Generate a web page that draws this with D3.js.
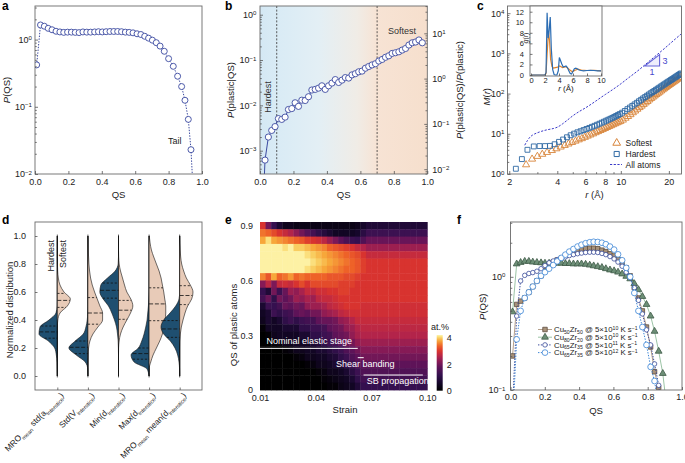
<!DOCTYPE html>
<html><head><meta charset="utf-8">
<script src="https://cdn.jsdelivr.net/npm/d3@7"></script>
<style>
body{margin:0;background:#fff;}
svg{display:block;font-family:"Liberation Sans",Arial,Helvetica,sans-serif;}
</style></head><body>
<svg id="fig" width="685" height="463"></svg>
<script>
// ---------------- DATA ----------------
// panel a: P(QS)
const qsA=[0.010,0.033,0.056,0.079,0.102,0.126,0.149,0.172,0.195,0.218,0.241,0.264,0.287,0.310,0.333,0.357,0.380,0.403,0.426,0.449,0.472,0.495,0.518,0.541,0.564,0.587,0.611,0.634,0.657,0.680,0.703,0.726,0.749,0.774,0.800,0.828,0.854,0.878,0.898,0.918,0.934,0.950];
const pA=[0.42,1.65,1.58,1.47,1.40,1.33,1.30,1.28,1.29,1.29,1.28,1.27,1.30,1.29,1.29,1.30,1.31,1.30,1.31,1.32,1.32,1.32,1.31,1.29,1.28,1.26,1.22,1.19,1.12,1.05,0.98,0.90,0.80,0.67,0.52,0.40,0.285,0.20,0.125,0.065,0.023,0.004];
const qsTicks=[0,0.2,0.4,0.6,0.8,1.0];
// panel b: P(plastic|QS)  (first point = zero, below axis)
const qsB=[0.010,0.03,0.05,0.07,0.09,0.11,0.13,0.15,0.17,0.19,0.21,0.23,0.25,0.27,0.29,0.31,0.33,0.35,0.37,0.39,0.41,0.43,0.45,0.47,0.49,0.51,0.53,0.55,0.57,0.59,0.61,0.63,0.65,0.67,0.69,0.71,0.73,0.75,0.77,0.79,0.81,0.83,0.85,0.87,0.89,0.91,0.93,0.95,0.97];
const pB=[0.00001,0.00062,0.0020,0.0028,0.0034,0.0051,0.0049,0.0055,0.0081,0.0085,0.0114,0.0095,0.0130,0.0128,0.0155,0.0218,0.0225,0.024,0.027,0.0225,0.027,0.031,0.037,0.032,0.036,0.041,0.040,0.047,0.050,0.055,0.057,0.066,0.072,0.078,0.083,0.095,0.103,0.115,0.124,0.140,0.145,0.152,0.166,0.180,0.214,0.240,0.250,0.277,0.240];
const regionLines=[0.1,0.7];
// panel c: M(r)
const rHard=[2.2,2.4,2.6,2.85,3.1,3.35,3.6,3.85,4.1,4.35,4.6,4.85,5.1,5.35,5.6,5.85,6.1,6.35,6.6,6.85,7.1,7.35,7.6,7.85,8.1,8.35,8.6,8.85,9.1,9.35,9.6,9.85,10.2,10.6,11.0,11.4,11.8,12.2,12.6,13.0,13.4,13.8,14.2,14.6,15.0,15.4,15.8,16.2,16.6,17.0,17.4,17.8,18.2,18.6,19.0,19.4,19.8,20.2,20.6,21.0,21.4,21.8,22.2,22.6,23.0,23.4,23.8];
const mHard=[1.35,2.35,4.0,4.85,4.95,4.95,5.0,5.5,6.3,7.2,8.2,9.2,10.1,10.9,11.6,12.4,13.2,14.0,14.9,15.8,16.8,17.8,18.9,20.0,21.2,22.4,23.6,24.9,26.3,27.8,29.3,31.0,33.5,37,41,45,49.5,54,59,64.5,70,76,82,88.5,95,102,109,116,124,132,140,149,158,167,177,187,197,207,218,229,240,252,264,277,290,303,317];
const rSoft=[2.55,2.78,3.0,3.22,3.45,3.7,3.95,4.2,4.45,4.7,4.95,5.2,5.45,5.7,5.95,6.2,6.45,6.7,6.95,7.2,7.45,7.7,7.95,8.2,8.45,8.7,8.95,9.2,9.45,9.7,9.95,10.3,10.7,11.1,11.5,11.9,12.3,12.7,13.1,13.5,13.9,14.3,14.7,15.1,15.5,15.9,16.3,16.7,17.1,17.5,17.9,18.3,18.7,19.1,19.5,19.9,20.3,20.7,21.1,21.5,21.9,22.3,22.7,23.1,23.5];
const mSoft=[1.7,2.35,2.75,3.1,3.45,3.85,4.25,4.7,5.15,5.6,6.1,6.6,7.1,7.6,8.2,8.8,9.4,10.0,10.7,11.4,12.1,12.8,13.6,14.4,15.2,16.0,16.9,17.8,18.7,19.6,20.5,22,24.5,27,30,33.5,37,41,45,49,54,59,64,70,76,82,88,95,102,109,117,125,133,142,151,160,169,178,188,198,208,219,230,242,254];
const rAll=[2.5,2.6,2.7,2.8,3.0,3.2,3.4,3.6,3.8,4.0,4.3,4.6,5.0,5.5,6.0,6.5,7.0,7.5,8.0,9.0,10,11,12,13,14,16,18,20,22,23.8];
const mAll=[5.2,6.8,8.3,9.3,10.6,11.6,12.4,13.0,13.6,14.6,17.5,21.5,28,36,44,54,66,80,95,130,175,235,305,390,500,780,1150,1650,2300,3000];
const rTicksC=[2,4,6,8,10,20];
// inset g(r)
const gRBlue=[0,2.0,2.15,2.3,2.45,2.6,2.75,2.9,3.1,3.3,3.5,3.7,3.9,4.05,4.2,4.4,4.6,4.8,5.0,5.2,5.4,5.6,5.8,6.0,6.2,6.4,6.6,6.8,7.0,7.5,8.0,8.5,9.0,9.5,10];
const gBlue=[0,0,0.5,11.8,7.0,8.5,11.0,5.0,1.0,0.1,0,0,0.8,3.3,2.8,2.1,1.5,1.6,1.7,1.4,0.8,0.3,0.2,0.7,1.2,1.3,1.2,1.0,0.9,0.8,0.85,0.9,0.85,0.8,0.8];
const gROrange=[0,2.0,2.15,2.3,2.5,2.65,2.8,3.0,3.2,3.5,3.8,4.1,4.5,5.0,5.5,5.9,6.3,6.7,7.2,8,9,10];
const gOrange=[0,0,0.3,4.0,8.3,6.5,3.0,1.6,1.3,1.4,1.5,1.7,1.4,1.6,1.0,0.6,0.9,1.1,0.95,0.85,0.9,0.8];
// panel d: violins (half-widths at levels 0,0.05,...,1.0)
const vLevels=[0,0.05,0.1,0.15,0.2,0.25,0.3,0.35,0.4,0.45,0.5,0.55,0.6,0.65,0.7,0.75,0.8,0.85,0.9,0.95,1.0];
const hardDens=[
[0,0.5,1,3,8,27,55,52,25,4,0.5,0,0,0,0,0,0,0,0,0,0],
[0,0.5,8,35,57,38,14,6,2,0.5,0,0,0,0,0,0,0,0,0,0,0],
[0,0,0,0,0.3,1,3,6,12,20,30,46,56,53,33,10,1,0,0,0,0],
[0.3,6,45,54,32,22,15,10,6,4,2,1,0.3,0,0,0,0,0,0,0,0],
[0,0.3,2,6,14,28,48,56,48,29,12,2,0,0,0,0,0,0,0,0,0]];
const softDens=[
[0,0,0,0,0,0,0,0,1.5,8,30,39,20,8,3,1,0.3,0,0,0,0],
[0,0,0,0.5,2,6,15,30,44,44,36,28,20,13,8,5,3,2,1,0.5,0],
[0,0,0,0,0.3,2,6,14,25,36,43,37,25,18,12,6,2,0.5,0,0,0],
[0,0,5,12,22,32,40,45,48,50,50,47,44,40,36,30,22,14,7,3,0.5],
[0,0,0,0,0,0.3,2,5,10,16,24,36,40,32,20,12,6,3,1.5,0.5,0]];
const hardQuart=[[0.27,0.315,0.357],[0.16,0.205,0.25],[0.556,0.612,0.664],[0.12,0.16,0.20],[0.276,0.336,0.396]];
const softQuart=[[0.49,0.54,0.59],[0.37,0.45,0.56],[0.405,0.47,0.54],[0.395,0.515,0.63],[0.51,0.575,0.645]];
const violinCats=["c1","c2","c3","c4","c5"];
const violinLabels=[
 [["MRO","n"],["mean","sub"],[" std(a","n"],["interstice","sub"],[")","n"]],
 [["Std(V","n"],["interstice","sub"],[")","n"]],
 [["Min(d","n"],["interstice","sub"],[")","n"]],
 [["Max(d","n"],["interstice","sub"],[")","n"]],
 [["MRO","n"],["mean","sub"],[" mean(d","n"],["interstice","sub"],[")","n"]]];
// panel e: heat map (at.%), rows from top QS bin to bottom
const heatStrainEdges=[0.010,0.013,0.016,0.019,0.022,0.025,0.028,0.031,0.034,0.037,0.040,0.043,0.046,0.049,0.052,0.055,0.058,0.061,0.064,0.067,0.070,0.073,0.076,0.079,0.082,0.085,0.088,0.091,0.094,0.097,0.100];
const heatQsEdges=[0.92,0.88,0.84,0.80,0.76,0.72,0.68,0.64,0.60,0.56,0.52,0.48,0.44,0.40,0.36,0.32,0.28,0.24,0.20,0.16,0.12,0.08,0.04,0.00];
const heatValues=[
[3.0,2.0,1.2,0.7,0.4,0.4,0.3,0.3,0.3,0.3,0.3,0.3,0.3,0.3,0.3,0.3,0.3,0.4,0.6,0.8,0.8,0.8,0.8,0.8,0.8,0.8,0.8,0.8,0.8,0.8],
[3.5,3.4,3.2,3.0,2.8,2.6,2.3,2.0,1.7,1.4,1.1,0.9,0.7,0.5,0.5,0.5,0.5,0.6,1.0,1.3,1.3,1.3,1.3,1.3,1.3,1.3,1.3,1.3,1.3,1.3],
[3.8,4.1,3.8,3.7,3.6,3.5,3.4,3.3,3.1,3.0,2.9,2.7,2.4,2.1,1.8,1.5,1.3,1.2,1.6,1.9,1.9,1.9,1.9,1.9,1.9,1.9,1.9,1.9,1.9,1.9],
[4.2,4.2,4.2,4.2,4.1,4.2,4.0,4.0,3.9,3.8,3.7,3.6,3.4,3.3,3.2,3.1,3.0,2.8,2.6,2.4,2.4,2.4,2.4,2.4,2.4,2.4,2.4,2.4,2.4,2.4],
[4.2,4.2,4.2,4.2,4.2,4.2,4.2,4.2,4.1,4.0,3.9,3.8,3.7,3.6,3.5,3.4,3.3,3.2,3.0,2.8,2.8,2.8,2.8,2.8,2.8,2.8,2.8,2.8,2.8,2.8],
[4.2,4.2,4.2,4.2,4.2,4.2,4.2,4.2,4.2,4.1,4.0,3.9,3.8,3.7,3.6,3.5,3.4,3.3,3.1,3.0,3.0,3.0,3.0,3.0,3.0,3.0,3.0,3.0,3.0,3.0],
[4.2,4.2,4.2,4.2,4.2,4.2,4.2,4.2,4.1,4.0,3.9,3.8,3.7,3.6,3.5,3.4,3.4,3.3,3.1,3.0,3.0,3.0,3.0,3.0,3.0,3.0,3.0,3.0,3.0,3.0],
[3.6,3.3,3.8,3.4,3.5,3.7,3.4,3.5,3.4,3.4,3.4,3.4,3.3,3.3,3.3,3.2,3.2,3.1,3.0,3.0,3.0,3.0,3.0,3.0,3.0,3.0,3.0,3.0,3.0,3.0],
[2.2,2.7,2.1,2.8,2.9,2.8,3.0,3.2,3.0,3.2,3.2,3.2,3.2,3.2,3.1,3.1,3.1,3.0,3.0,3.0,3.0,3.0,3.0,3.0,3.0,3.0,3.0,3.0,3.0,3.0],
[1.2,0.8,2.0,1.3,1.9,2.4,2.3,2.5,2.8,2.7,2.9,2.9,3.0,3.0,3.1,3.1,3.0,3.0,3.0,3.0,3.0,3.0,3.0,3.0,3.0,3.0,3.0,3.0,3.0,3.0],
[1.4,1.9,1.1,2.0,1.8,2.0,2.4,2.3,2.5,2.4,2.7,2.8,2.8,2.9,3.0,3.0,3.0,3.0,3.0,3.0,3.0,3.0,3.0,3.0,3.0,3.0,3.0,3.0,3.0,3.0],
[0.7,1.3,1.2,1.4,1.9,1.8,2.0,1.9,2.3,2.4,2.4,2.5,2.7,2.8,2.9,3.0,3.0,3.0,2.9,2.9,2.9,2.9,2.9,2.9,2.9,2.9,2.9,2.9,2.9,2.9],
[0.5,0.7,1.3,1.1,1.3,1.4,1.8,1.9,1.8,2.0,2.0,2.3,2.4,2.5,2.7,2.8,2.9,2.9,2.9,2.9,2.9,2.9,2.9,2.9,2.9,2.9,2.9,2.9,2.9,2.9],
[0.4,0.7,0.5,0.7,1.1,1.3,1.1,1.3,1.4,1.4,1.8,1.9,1.9,2.0,2.3,2.4,2.6,2.8,2.8,2.8,2.8,2.8,2.8,2.8,2.8,2.8,2.8,2.8,2.8,2.8],
[0.1,0.5,0.5,0.5,0.7,0.7,0.7,1.1,1.1,1.3,1.3,1.4,1.8,1.9,2.0,2.3,2.4,2.6,2.7,2.7,2.7,2.7,2.7,2.7,2.7,2.7,2.7,2.7,2.7,2.7],
[0.0,0.1,0.4,0.5,0.5,0.5,0.5,0.7,0.7,1.1,1.1,1.3,1.4,1.8,1.9,2.0,2.3,2.5,2.6,2.6,2.6,2.6,2.6,2.6,2.6,2.6,2.6,2.6,2.6,2.6],
[0.0,0.0,0.1,0.2,0.4,0.4,0.5,0.5,0.5,0.7,0.8,1.1,1.3,1.4,1.7,1.9,2.0,2.3,2.4,2.4,2.4,2.4,2.4,2.4,2.4,2.4,2.4,2.4,2.4,2.4],
[0.0,0.0,0.0,0.0,0.1,0.2,0.4,0.4,0.5,0.5,0.7,0.7,0.9,1.1,1.3,1.6,1.8,2.0,2.2,2.2,2.2,2.2,2.2,2.2,2.2,2.2,2.2,2.2,2.2,2.2],
[0.0,0.0,0.0,0.0,0.0,0.0,0.1,0.2,0.4,0.4,0.5,0.5,0.7,0.8,1.1,1.3,1.6,1.8,2.0,2.0,2.0,2.0,2.0,2.0,2.0,2.0,2.0,2.0,2.0,2.0],
[0.0,0.0,0.0,0.0,0.0,0.0,0.0,0.0,0.1,0.2,0.4,0.4,0.5,0.7,0.8,1.1,1.3,1.6,1.8,1.8,1.8,1.8,1.8,1.8,1.8,1.8,1.8,1.8,1.8,1.8],
[0.0,0.0,0.0,0.0,0.0,0.0,0.0,0.0,0.0,0.0,0.1,0.2,0.4,0.4,0.5,0.7,1.0,1.3,1.6,1.6,1.6,1.6,1.6,1.6,1.6,1.6,1.6,1.6,1.6,1.6],
[0.0,0.0,0.0,0.0,0.0,0.0,0.0,0.0,0.0,0.0,0.0,0.1,0.2,0.3,0.4,0.5,0.7,1.1,1.4,1.4,1.4,1.4,1.4,1.4,1.4,1.4,1.4,1.4,1.4,1.4],
[0.0,0.0,0.0,0.0,0.0,0.0,0.0,0.0,0.0,0.0,0.0,0.0,0.1,0.1,0.3,0.4,0.5,0.8,1.2,1.2,1.2,1.2,1.2,1.2,1.2,1.2,1.2,1.2,1.2,1.2]];
const heatStops=[0,0.6,1.2,1.8,2.2,2.6,3.0,3.4,3.8,4.05,4.23];
const heatColors=["#000000","#16072b","#35104f","#5e1358","#861a56","#b3244a","#d8332f","#ee6228","#f7a73a","#fad66a","#fdf6b0"];
const stages=[
 {text:"Nominal elastic stage",s0:0.010,s1:0.0626,q:0.228,ts:0.0135,tq:0.250},
 {text:"Shear banding",s0:0.0626,s1:0.0658,q:0.177,ts:0.0509,tq:0.125},
 {text:"SB propagation",s0:0.0657,s1:0.0976,q:0.082,ts:0.0674,tq:0.032}];
// panel f
const qsF=[0.012,0.036,0.059,0.083,0.107,0.130,0.154,0.178,0.201,0.225,0.249,0.272,0.296,0.320,0.343,0.367,0.391,0.414,0.438,0.462,0.485,0.509,0.533,0.556,0.580,0.604,0.627,0.651,0.675,0.698,0.722,0.746,0.769,0.793,0.817,0.840,0.864,0.888,0.911];
const fCu50=[0.20,0.57,0.61,0.65,0.73,0.82,0.92,1.02,1.13,1.25,1.35,1.41,1.46,1.54,1.60,1.66,1.72,1.75,1.78,1.79,1.79,1.77,1.72,1.67,1.60,1.53,1.43,1.32,1.20,1.02,0.80,0.65,0.50,0.36,0.24,0.145,0.105,0.06,null];
const fCu80=[0.49,1.30,1.34,1.37,1.37,1.35,1.34,1.33,1.32,1.32,1.31,1.32,1.32,1.31,1.31,1.30,1.30,1.30,1.29,1.27,1.25,1.23,1.21,1.18,1.15,1.13,1.10,1.06,1.01,0.96,0.87,0.77,0.67,0.57,0.45,0.33,0.22,0.14,0.07];
const fCu65a=[0.07,0.45,0.92,1.03,1.07,1.09,1.12,1.18,1.26,1.33,1.38,1.42,1.46,1.50,1.54,1.57,1.60,1.62,1.64,1.65,1.65,1.64,1.61,1.57,1.51,1.44,1.35,1.24,1.10,0.98,0.80,0.62,0.47,0.34,0.25,0.17,0.11,0.06,null];
const fCu65b=[0.05,0.28,0.50,0.65,0.73,0.82,0.92,1.02,1.10,1.18,1.27,1.37,1.47,1.57,1.67,1.76,1.85,1.92,1.98,2.02,2.04,2.03,2.00,1.94,1.85,1.74,1.58,1.40,1.20,1.00,0.72,0.50,0.36,0.25,0.16,0.12,0.07,null,null];
const fSeriesNames=[
 [["Cu","n"],["50","sub"],["Zr","n"],["50","sub"],[" @ 5\u00d710","n"],["10","sup"],[" K s","n"],["\u22121","sup"]],
 [["Cu","n"],["80","sub"],["Zr","n"],["20","sub"],[" @ 5\u00d710","n"],["10","sup"],[" K s","n"],["\u22121","sup"]],
 [["Cu","n"],["65","sub"],["Zr","n"],["35","sub"],[" @ 5\u00d710","n"],["11","sup"],[" K s","n"],["\u22121","sup"]],
 [["Cu","n"],["65","sub"],["Zr","n"],["35","sub"],[" @ 5\u00d710","n"],["12","sup"],[" K s","n"],["\u22121","sup"]]];

// ---------------- HELPERS ----------------
const FONT='"Liberation Sans", Arial, Helvetica, sans-serif';
const svg=d3.select('#fig');
svg.append('rect').attr('width',685).attr('height',463).attr('fill','#fff');
const defs=svg.append('defs');
function clip(id,x0,y0,x1,y1){defs.append('clipPath').attr('id',id).append('rect').attr('x',x0).attr('y',y0).attr('width',x1-x0).attr('height',y1-y0);return 'url(#'+id+')';}
function box(x0,y0,x1,y1,c){svg.append('rect').attr('x',x0).attr('y',y0).attr('width',x1-x0).attr('height',y1-y0).attr('fill','none').attr('stroke',c||'#6a6a6a').attr('stroke-width',0.9);}
function rich(t,parts,fs,subK,supK){subK=subK||0.32;supK=supK||0.42;let cur=0;parts.forEach(([s,k])=>{let target=0,size=fs;if(k==='sub'){target=fs*subK;size=fs*0.66;}else if(k==='sup'){target=-fs*supK;size=fs*0.66;}const sp=t.append('tspan').text(s).attr('font-size',size);if(target-cur!==0)sp.attr('dy',(target-cur).toFixed(2));if(k==='i')sp.attr('font-style','italic');cur=target;});}
function label(x,y,parts,o={}){const fs=o.fs||9.5;const t=svg.append('text').attr('transform',`translate(${x},${y})`+(o.rot?` rotate(${o.rot})`:'')).attr('text-anchor',o.anchor||'start').attr('font-size',fs).attr('fill',o.fill||'#222').attr('font-family',FONT);if(o.weight)t.attr('font-weight',o.weight);rich(t,typeof parts==='string'?[[parts,'n']]:parts,fs,o.subK,o.supK);return t;}
function axis(gen,tx,ty,fs){const g=svg.append('g').attr('transform',`translate(${tx},${ty})`).call(gen);g.select('.domain').remove();g.selectAll('.tick line').attr('stroke','#555').attr('stroke-width',0.8);g.selectAll('.tick text').attr('font-size',fs||9).attr('fill','#222').attr('font-family',FONT);return g;}
function powTicks(g,fs){fs=fs||9;g.selectAll('.tick text').each(function(d){const e=Math.round(Math.log10(d));const t=d3.select(this).text(null);t.append('tspan').text('10');t.append('tspan').attr('dy','-0.45em').attr('font-size',(fs*0.68)+'px').text(e<0?'\u2212'+(-e):String(e));});}
function minorLog(lo,hi){const out=[];for(let e=Math.floor(Math.log10(lo));e<=Math.ceil(Math.log10(hi));e++){for(let m=2;m<=9;m++){const v=m*Math.pow(10,e);if(v>=lo&&v<=hi)out.push(v);}}return out;}
const blueDark='#3b4aa0';

// ---------------- PANEL A ----------------
(function(){
 const x=d3.scaleLinear().domain([0,1]).range([35,202]);
 const y=d3.scaleLog().domain([0.01,3.16]).range([174,6]);
 const cp=clip('cA',35,6,202,174);
 const g=svg.append('g').attr('clip-path',cp);
 const pts=qsA.map((q,i)=>({q,p:pA[i]}));
 g.append('path').datum(pts).attr('d',d3.line().x(d=>x(d.q)).y(d=>y(d.p))).attr('fill','none').attr('stroke',blueDark).attr('stroke-width',1).attr('stroke-dasharray','1.4,1.4');
 g.selectAll('circle').data(pts.filter(d=>d.p>=0.01)).join('circle').attr('cx',d=>x(d.q)).attr('cy',d=>y(d.p)).attr('r',3).attr('fill','#fff').attr('stroke',blueDark).attr('stroke-width',0.9);
 box(35,6,202,174);
 axis(d3.axisBottom(x).tickValues(qsTicks).tickFormat(d3.format('.1f')).tickSizeInner(-3).tickSizeOuter(0).tickPadding(4.5),0,174);
 const ga=axis(d3.axisLeft(y).tickValues([0.01,0.1,1]).tickFormat(()=>'').tickSizeInner(-3).tickSizeOuter(0).tickPadding(3),35,0);powTicks(ga);
 axis(d3.axisLeft(y).tickValues(minorLog(0.01,3.16)).tickFormat(()=>'').tickSizeInner(-1.8).tickSizeOuter(0),35,0);
 label(168,144,'Tail',{fs:9});
 label(118.5,198,'QS',{anchor:'middle'});
 label(10,90,[['P','i'],['(QS)','n']],{rot:-90,anchor:'middle'});
})();

// ---------------- PANEL B ----------------
(function(){
 const x=d3.scaleLinear().domain([0,1]).range([260,427.3]);
 const y=d3.scaleLog().domain([3.06e-4,1.556]).range([174,6]);
 const y2=d3.scaleLog().domain([0.00783,40.1]).range([174,6]);
 const gr=defs.append('linearGradient').attr('id','bgB');
 [[0,'#d4e8f4'],[0.1,'#d9ebf5'],[0.35,'#e3eff5'],[0.58,'#f0ece6'],[0.7,'#f7e3d4'],[1,'#f6dfcd']].forEach(([o,c])=>gr.append('stop').attr('offset',o).attr('stop-color',c));
 svg.append('rect').attr('x',260).attr('y',6).attr('width',167.3).attr('height',168).attr('fill','url(#bgB)');
 svg.selectAll('.regl').data(regionLines).join('line').attr('x1',d=>x(d)).attr('x2',d=>x(d)).attr('y1',6).attr('y2',174).attr('stroke','#333').attr('stroke-width',0.8).attr('stroke-dasharray','2,1.6');
 const cp=clip('cB',260,6,427.3,174);
 const g=svg.append('g').attr('clip-path',cp);
 const pts=qsB.map((q,i)=>({q,p:pB[i]}));
 g.append('path').datum(pts).attr('d',d3.line().x(d=>x(d.q)).y(d=>y(d.p))).attr('fill','none').attr('stroke',blueDark).attr('stroke-width',1);
 g.selectAll('circle').data(pts.filter(d=>d.p>3.06e-4)).join('circle').attr('cx',d=>x(d.q)).attr('cy',d=>y(d.p)).attr('r',3.1).attr('fill','#fff').attr('stroke',blueDark).attr('stroke-width',0.9);
 box(260,6,427.3,174);
 axis(d3.axisBottom(x).tickValues(qsTicks).tickFormat(d3.format('.1f')).tickSizeInner(-3).tickSizeOuter(0).tickPadding(4.5),0,174);
 const gl=axis(d3.axisLeft(y).tickValues([0.001,0.01,0.1,1]).tickFormat(()=>'').tickSizeInner(-3).tickSizeOuter(0).tickPadding(3.5),260,0);powTicks(gl);
 axis(d3.axisLeft(y).tickValues(minorLog(3.06e-4,1.556)).tickFormat(()=>'').tickSizeInner(-1.8).tickSizeOuter(0),260,0);
 const gr2=axis(d3.axisRight(y2).tickValues([0.01,0.1,1,10]).tickFormat(()=>'').tickSizeInner(-3).tickSizeOuter(0).tickPadding(5),427.3,0);powTicks(gr2);
 axis(d3.axisRight(y2).tickValues(minorLog(0.00783,40.1)).tickFormat(()=>'').tickSizeInner(-1.8).tickSizeOuter(0),427.3,0);
 label(271,97,'Hardest',{rot:-90,anchor:'middle',fs:9,fill:'#333'});
 label(388,34,'Softest',{fs:9,fill:'#333'});
 label(343.6,198,'QS',{anchor:'middle'});
 label(234,90,[['P','i'],['(plastic|QS)','n']],{rot:-90,anchor:'middle'});
 label(462.5,90,[['P','i'],['(plastic|QS)/','n'],['P','i'],['(plastic)','n']],{rot:-90,anchor:'middle'});
})();

// ---------------- PANEL C ----------------
(function(){
 const x=d3.scaleLog().domain([1.95,24]).range([507.5,681.5]);
 const y=d3.scaleLog().domain([1,15100]).range([174,6]);
 const cp=clip('cC',507.5,6,681.5,174);
 const g=svg.append('g').attr('clip-path',cp);
 const allPts=rAll.map((r,i)=>({r,m:mAll[i]}));
 g.append('path').datum(allPts).attr('d',d3.line().curve(d3.curveMonotoneX).x(d=>x(d.r)).y(d=>y(d.m))).attr('fill','none').attr('stroke','#3838c8').attr('stroke-width',1).attr('stroke-dasharray','2.2,1.5');
 const tri=d3.symbol().type(d3.symbolTriangle).size(22);
 const sq=d3.symbol().type(d3.symbolSquare).size(24);
 g.selectAll('.soft').data(rSoft.map((r,i)=>({r,m:mSoft[i]}))).join('path').attr('class','soft').attr('d',tri).attr('transform',d=>`translate(${x(d.r)},${y(d.m)})`).attr('fill','none').attr('stroke','#d8843a').attr('stroke-width',0.9);
 g.selectAll('.hard').data(rHard.map((r,i)=>({r,m:mHard[i]}))).join('path').attr('class','hard').attr('d',sq).attr('transform',d=>`translate(${x(d.r)},${y(d.m)})`).attr('fill','none').attr('stroke','#2f69a4').attr('stroke-width',0.9);
 // slope triangle (slope 3)
 const r0=14.1,r1=17.5,m0=486,m1=m0*Math.pow(r1/r0,3);
 svg.append('path').attr('d',`M${x(r0)},${y(m0)}L${x(r1)},${y(m1)}L${x(r1)},${y(m0)}Z`).attr('fill','#eeeefc').attr('stroke','#6464d8').attr('stroke-width',1.1);
 label(x(r1)+3,(y(m0)+y(m1))/2+3.5,'3',{fs:9,fill:'#4646cc'});
 label((x(r0)+x(r1))/2,y(m0)+9,'1',{fs:9,fill:'#4646cc',anchor:'middle'});
 box(507.5,6,681.5,174);
 axis(d3.axisBottom(x).tickValues(rTicksC).tickFormat(d3.format('d')).tickSizeInner(-3).tickSizeOuter(0).tickPadding(4.5),0,174);
 axis(d3.axisBottom(x).tickValues([3,5,7,9]).tickFormat(()=>'').tickSizeInner(-1.8).tickSizeOuter(0),0,174);
 const gl=axis(d3.axisLeft(y).tickValues([1,10,100,1000,10000]).tickFormat(()=>'').tickSizeInner(-3).tickSizeOuter(0).tickPadding(3),507.5,0);powTicks(gl);
 axis(d3.axisLeft(y).tickValues(minorLog(1,15100)).tickFormat(()=>'').tickSizeInner(-1.8).tickSizeOuter(0),507.5,0);
 // legend
 const lg=svg.append('g');
 lg.append('path').attr('d',d3.symbol().type(d3.symbolTriangle).size(26)).attr('transform','translate(616.7,143)').attr('fill','none').attr('stroke','#d8843a');
 lg.append('path').attr('d',d3.symbol().type(d3.symbolSquare).size(26)).attr('transform','translate(616.7,154)').attr('fill','none').attr('stroke','#2f69a4');
 lg.append('line').attr('x1',610).attr('x2',622).attr('y1',164.5).attr('y2',164.5).attr('stroke','#3838c8').attr('stroke-dasharray','2.2,1.5');
 label(625.5,146,'Softest',{fs:8.5});
 label(625.5,157,'Hardest',{fs:8.5});
 label(625.5,167.5,'All atoms',{fs:8.5});
 label(594.5,198,[['r','i'],[' (\u00c5)','n']],{anchor:'middle'});
 label(489.5,96.7,[['M','i'],['(','n'],['r','i'],[')','n']],{rot:-90,anchor:'middle'});
 // inset
 const ix=d3.scaleLinear().domain([0,10]).range([531,601]);
 const iy=d3.scaleLinear().domain([0,12]).range([75,11.7]);
 svg.append('rect').attr('x',530).attr('y',6).attr('width',72).attr('height',70).attr('fill','#fff');
 const icp=clip('cI',530,6,602,76);
 const gi=svg.append('g').attr('clip-path',icp);
 gi.append('path').datum(gROrange.map((r,i)=>({r,g:gOrange[i]}))).attr('d',d3.line().x(d=>ix(d.r)).y(d=>iy(d.g))).attr('fill','none').attr('stroke','#e0852e').attr('stroke-width',1.2);
 gi.append('path').datum(gRBlue.map((r,i)=>({r,g:gBlue[i]}))).attr('d',d3.line().x(d=>ix(d.r)).y(d=>iy(d.g))).attr('fill','none').attr('stroke','#2c6db3').attr('stroke-width',1.2);
 box(530,6,602,76);
 axis(d3.axisBottom(ix).tickValues([0,2,4,6,8,10]).tickFormat(d3.format('d')).tickSizeInner(-2.5).tickSizeOuter(0).tickPadding(2),0,76,7.5);
 axis(d3.axisLeft(iy).tickValues([0,2,4,6,8,10,12]).tickFormat(d3.format('d')).tickSizeInner(-2.5).tickSizeOuter(0).tickPadding(6),530,0,7.5);
 label(566,91,[['r','i'],[' (\u00c5)','n']],{anchor:'middle',fs:8});
 label(527.5,38,[['g','i'],['(','n'],['r','i'],[')','n']],{rot:-90,anchor:'middle',fs:7});
})();

// ---------------- PANEL D ----------------
(function(){
 const x=d3.scalePoint().domain(violinCats).range([35,202]).padding(0.73);
 const y=d3.scaleLinear().domain([-0.1,1.1]).range([390,222]);
 const w=d3.scaleLinear().domain([0,60]).range([0,20]);
 function widthAt(dens,q){const i=Math.min(Math.floor(q/0.05),dens.length-2);const f=(q-vLevels[i])/0.05;return dens[i]+(dens[i+1]-dens[i])*f;}
 violinCats.forEach((c,k)=>{
  const cx=x(c);
  svg.append('line').attr('x1',cx).attr('x2',cx).attr('y1',y(-0.01)).attr('y2',y(1.01)).attr('stroke','#222').attr('stroke-width',0.8);
  const hd=vLevels.map((v,i)=>({v,h:hardDens[k][i]}));
  const sd=vLevels.map((v,i)=>({v,h:softDens[k][i]}));
  svg.append('path').datum(hd).attr('d',d3.area().curve(d3.curveMonotoneY).y(d=>y(d.v)).x0(cx).x1(d=>cx-w(d.h))).attr('fill','#1f4f70').attr('stroke','#111').attr('stroke-width',0.6);
  svg.append('path').datum(sd).attr('d',d3.area().curve(d3.curveMonotoneY).y(d=>y(d.v)).x0(cx).x1(d=>cx+w(d.h))).attr('fill','#e8cbb8').attr('stroke','#111').attr('stroke-width',0.6);
  hardQuart[k].forEach((q,j)=>{svg.append('line').attr('x1',cx-w(widthAt(hardDens[k],q))).attr('x2',cx).attr('y1',y(q)).attr('y2',y(q)).attr('stroke','#111').attr('stroke-width',0.8).attr('stroke-dasharray',j===1?'4,1.8':'2.2,1.8');});
  softQuart[k].forEach((q,j)=>{svg.append('line').attr('x1',cx).attr('x2',cx+w(widthAt(softDens[k],q))).attr('y1',y(q)).attr('y2',y(q)).attr('stroke','#111').attr('stroke-width',0.8).attr('stroke-dasharray',j===1?'4,1.8':'2.2,1.8');});
  label(cx+7,396,violinLabels[k],{rot:-45,anchor:'end',fs:8.4});
 });
 box(35,222,202,390);
 axis(d3.axisLeft(y).tickValues([0,0.2,0.4,0.6,0.8,1.0]).tickFormat(d3.format('.1f')).tickSizeInner(-2.5).tickSizeOuter(0).tickPadding(9),35,0);
 axis(d3.axisBottom(x).tickFormat(()=>'').tickSizeInner(-2.5).tickSizeOuter(0),0,390);
 label(54,240,'Hardest',{rot:-90,anchor:'end',fs:9});
 label(66,240,'Softest',{rot:-90,anchor:'end',fs:9});
 label(13,310,'Normalized distribution',{rot:-90,anchor:'middle'});
})();

// ---------------- PANEL E ----------------
(function(){
 const x=d3.scaleLinear().domain([0.01,0.10]).range([260,427.3]);
 const y=d3.scaleLinear().domain([0,0.92]).range([390,222]);
 const col=d3.scaleLinear().domain(heatStops).range(heatColors).interpolate(d3.interpolateRgb).clamp(true);
 const cells=[];
 heatValues.forEach((row,r)=>row.forEach((v,c)=>cells.push({s0:heatStrainEdges[c],s1:heatStrainEdges[c+1],q1:heatQsEdges[r],q0:heatQsEdges[r+1],v})));
 svg.append('g').selectAll('rect').data(cells).join('rect').attr('x',d=>x(d.s0)).attr('width',d=>x(d.s1)-x(d.s0)+0.4).attr('y',d=>y(d.q1)).attr('height',d=>y(d.q0)-y(d.q1)+0.4).attr('fill',d=>col(d.v));
 stages.forEach(s=>{
  svg.append('line').attr('x1',x(s.s0)).attr('x2',x(s.s1)).attr('y1',y(s.q)).attr('y2',y(s.q)).attr('stroke','#fff').attr('stroke-width',1);
  label(x(s.ts),y(s.tq),s.text,{fs:9,fill:'#fff'});
 });
 axis(d3.axisBottom(x).tickValues([0.01,0.04,0.07,0.10]).tickFormat(d3.format('.2f')).tickSize(0).tickPadding(5),0,390);
 axis(d3.axisLeft(y).tickValues([0,0.3,0.6,0.9]).tickFormat(d=>d===0?'0':d.toFixed(1)).tickSize(0).tickPadding(7),260,0);
 label(345,413,'Strain',{anchor:'middle'});
 label(237,325,'QS of plastic atoms',{rot:-90,anchor:'middle'});
 // colorbar
 const cb=d3.scaleLinear().domain([0,4.23]).range([390.7,335]);
 const lg=defs.append('linearGradient').attr('id','cbar').attr('x1',0).attr('y1',1).attr('x2',0).attr('y2',0);
 d3.range(0,1.0001,0.04).forEach(t=>lg.append('stop').attr('offset',t).attr('stop-color',col(t*4.23)));
 svg.append('rect').attr('x',436.7).attr('y',335).attr('width',6).attr('height',55.7).attr('fill','url(#cbar)');
 axis(d3.axisRight(cb).tickValues([0,2,4]).tickFormat(d3.format('d')).tickSize(0).tickPadding(4),442.7,0);
 label(440,330,'at.%',{anchor:'middle',fs:9});
})();

// ---------------- PANEL F ----------------
(function(){
 const x=d3.scaleLinear().domain([0,1]).range([510.5,682]);
 const y=d3.scaleLog().domain([0.1,3.05]).range([390,222]);
 const cp=clip('cF',510.5,222,682,390);
 const g=svg.append('g').attr('clip-path',cp);
 const series=[
  {v:fCu50,line:'#b5a08b',dash:null,sym:d3.symbolSquare,size:20,fill:'#a8927a',stroke:'#5e4e40'},
  {v:fCu80,line:'#9cc4a6',dash:null,sym:d3.symbolTriangle,size:20,fill:'#6d8f77',stroke:'#3e5946'},
  {v:fCu65a,line:'#3b4c9b',dash:'1.4,1.4',sym:d3.symbolCircle,size:16,fill:'#fff',stroke:'#3b4c9b'},
  {v:fCu65b,line:'#3c85d5',dash:'1.4,1.4',sym:d3.symbolCircle,size:26,fill:'#fff',stroke:'#3c85d5'}];
 series.forEach(s=>{
  const pts=qsF.map((q,i)=>({q,p:s.v[i]})).filter(d=>d.p!=null);
  const p=g.append('path').datum(pts).attr('d',d3.line().x(d=>x(d.q)).y(d=>y(d.p))).attr('fill','none').attr('stroke',s.line).attr('stroke-width',1);
  if(s.dash)p.attr('stroke-dasharray',s.dash);
  g.selectAll(null).data(pts).join('path').attr('d',d3.symbol().type(s.sym).size(s.size)).attr('transform',d=>`translate(${x(d.q)},${y(d.p)})`).attr('fill',s.fill).attr('stroke',s.stroke).attr('stroke-width',0.8);
 });
 box(510.5,222,682,390);
 axis(d3.axisBottom(x).tickValues(qsTicks).tickFormat(d3.format('.1f')).tickSizeInner(-3).tickSizeOuter(0).tickPadding(4),0,390);
 const gl=axis(d3.axisLeft(y).tickValues([0.1,1]).tickFormat(()=>'').tickSizeInner(-3).tickSizeOuter(0).tickPadding(5),510.5,0);powTicks(gl);
 axis(d3.axisLeft(y).tickValues(minorLog(0.1,3.05)).tickFormat(()=>'').tickSizeInner(-1.8).tickSizeOuter(0),510.5,0);
 const ly=[329.5,337.2,344.9,352.6];
 series.forEach((s,i)=>{
  const l=svg.append('line').attr('x1',538).attr('x2',552).attr('y1',ly[i]).attr('y2',ly[i]).attr('stroke',s.line).attr('stroke-width',1);
  if(s.dash)l.attr('stroke-dasharray',s.dash);
  svg.append('path').attr('d',d3.symbol().type(s.sym).size(s.size)).attr('transform',`translate(545,${ly[i]})`).attr('fill',s.fill).attr('stroke',s.stroke).attr('stroke-width',0.8);
  label(554,ly[i]+2.8,fSeriesNames[i],{fs:7.8,subK:0.22,supK:0.36});
 });
 label(596,414,'QS',{anchor:'middle'});
 label(486,306.7,[['P','i'],['(QS)','n']],{rot:-90,anchor:'middle'});
})();

// panel letters
[['a',2,10],['b',225,10],['c',477,10],['d',2,224],['e',225,224],['f',457,224]].forEach(([t,x,y])=>label(x,y,t,{fs:12,weight:'bold',fill:'#000'}));
</script></body></html>
